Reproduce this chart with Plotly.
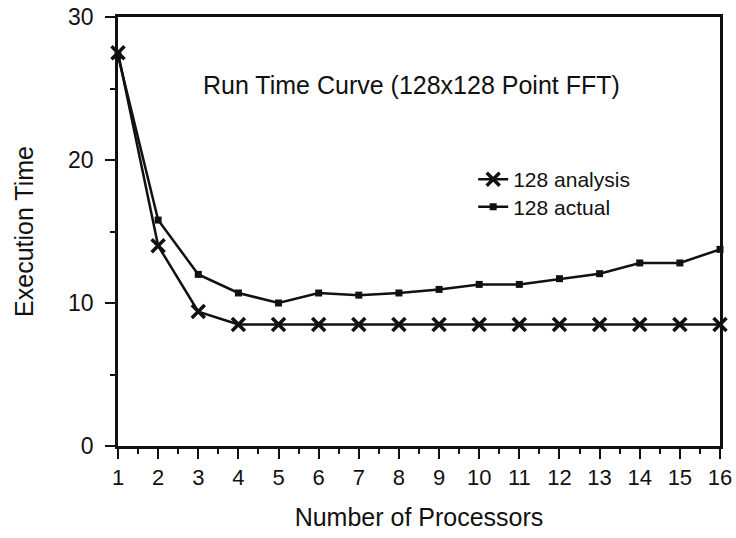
import plotly.graph_objects as go

processors = list(range(1, 17))
analysis = [27.5, 14.0, 9.4, 8.5, 8.5, 8.5, 8.5, 8.5, 8.5, 8.5, 8.5, 8.5, 8.5, 8.5, 8.5, 8.5]
actual = [27.3, 15.8, 12.0, 10.7, 10.0, 10.7, 10.55, 10.7, 10.95, 11.3, 11.3, 11.7, 12.05, 12.8, 12.8, 13.75]
x_ticks = [str(i) for i in processors]
y_ticks = [0, 10, 20, 30]

FONT = "Liberation Sans, Arial, Helvetica, sans-serif"
INK = "#111111"

fig = go.Figure()
fig.add_trace(go.Scatter(
    x=processors, y=analysis, name="128 analysis", mode="lines+markers",
    line=dict(color=INK, width=2.5),
    marker=dict(symbol="x-thin", size=13, line=dict(color=INK, width=3.5), color=INK),
    cliponaxis=False, legend="legend",
))
fig.add_trace(go.Scatter(
    x=processors, y=actual, name="128 actual", mode="lines+markers",
    line=dict(color=INK, width=2.5),
    marker=dict(symbol="square", size=7, color=INK),
    cliponaxis=False, legend="legend2",
))

fig.add_annotation(
    text="Run Time Curve (128x128 Point FFT)", xref="paper", yref="paper",
    x=0.488, y=0.879, showarrow=False, font=dict(family=FONT, size=25, color=INK),
)

leg_common = dict(xanchor="left", yanchor="middle", bgcolor="rgba(0,0,0,0)",
                  font=dict(family=FONT, size=21, color=INK), itemwidth=30)
fig.update_layout(
    width=736, height=538,
    margin=dict(l=118, r=16, t=17, b=92, autoexpand=False),
    paper_bgcolor="white", plot_bgcolor="white",
    font=dict(family=FONT, size=21, color=INK),
    showlegend=True,
    legend=dict(x=0.59, y=0.621, **leg_common),
    legend2=dict(x=0.59, y=0.557, **leg_common),
)
fig.update_xaxes(
    range=[1, 16], tickmode="array", tickvals=processors, ticktext=x_ticks,
    showgrid=False, zeroline=False, showline=True, linecolor=INK, linewidth=2.5, mirror=True,
    ticks="outside", ticklen=10, tickwidth=2, tickcolor=INK, ticklabelstandoff=0,
    minor=dict(dtick=0.5, tick0=1, ticks="outside", ticklen=5, tickwidth=2, tickcolor=INK, showgrid=False),
    title=dict(text="Number of Processors", standoff=20, font=dict(family=FONT, size=25, color=INK)),
    tickfont=dict(family=FONT, size=22, color=INK), automargin=False,
)
fig.update_yaxes(
    range=[0, 30], tickmode="array", tickvals=y_ticks,
    showgrid=False, zeroline=False, showline=True, linecolor=INK, linewidth=2.5, mirror=True,
    ticks="outside", ticklen=10, tickwidth=2, tickcolor=INK, ticklabelstandoff=7,
    minor=dict(dtick=5, tick0=0, ticks="outside", ticklen=5, tickwidth=2, tickcolor=INK, showgrid=False),
    title=dict(text="Execution Time", standoff=28, font=dict(family=FONT, size=25, color=INK)),
    tickfont=dict(family=FONT, size=23, color=INK), automargin=False,
)

fig.write_html("out.html", config={"displayModeBar": False},
               post_script="document.body.style.margin='0';")
